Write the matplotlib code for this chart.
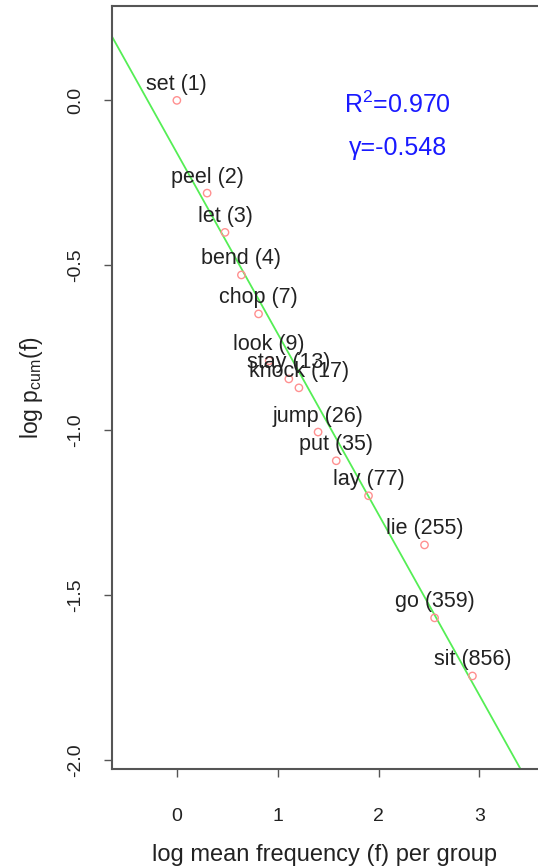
import numpy as np
import matplotlib.pyplot as plt

plt.rcParams["font.family"] = ["Liberation Sans", "DejaVu Sans"]
plt.rcParams["mathtext.fontset"] = "custom"
plt.rcParams["mathtext.rm"] = "Liberation Sans"
plt.rcParams["mathtext.it"] = "Liberation Sans:italic"

# ── data ────────────────────────────────────────────────────────────────────
words = ["set", "peel", "let", "bend", "chop", "look", "stay", "knock",
         "jump", "put", "lay", "lie", "go", "sit"]
freqs = [1, 2, 3, 4, 7, 9, 13, 17, 26, 35, 77, 255, 359, 856]
log_f = [0.00, 0.30, 0.477, 0.64, 0.81, 0.915, 1.11, 1.21,
         1.40, 1.58, 1.90, 2.455, 2.555, 2.93]
log_p = [0.00, -0.281, -0.40, -0.529, -0.647, -0.789, -0.844, -0.871,
         -1.005, -1.092, -1.198, -1.347, -1.568, -1.744]

fit_intercept = -0.159
fit_slope = -0.548
r2 = 0.970

# ── plot ────────────────────────────────────────────────────────────────────
fig = plt.figure(figsize=(5.38, 8.67), dpi=100)
ax = fig.add_axes([0.2076, 0.1130, 0.7924, 0.8801])

xlim = (-0.646, 3.58)
ylim = (-2.026, 0.286)

xs = np.array(xlim)
ax.plot(xs, fit_intercept + fit_slope * xs, color="#55ee55", lw=1.3, zorder=2)

ax.scatter(log_f, log_p, s=28, facecolors="none", edgecolors="#ff9090",
           linewidths=1.0, zorder=3)

for w, f, x, y in zip(words, freqs, log_f, log_p):
    ax.annotate(f"{w} ({f})", (x, y), xytext=(0, 4), textcoords="offset points",
                ha="center", va="bottom", fontsize=15.5, color="#222222", zorder=4)

ax.text(2.19, -0.014, r"R$^2$=" + f"{r2:.3f}", color="#1a1aff", fontsize=18,
        ha="center", va="center")
ax.text(2.19, -0.144, "γ=" + f"{fit_slope:.3f}", color="#1a1aff",
        fontsize=18, ha="center", va="center")

ax.set_xlim(*xlim)
ax.set_ylim(*ylim)
ax.set_xticks([0, 1, 2, 3])
ax.set_yticks([0.0, -0.5, -1.0, -1.5, -2.0])
ax.set_yticklabels(["0.0", "-0.5", "-1.0", "-1.5", "-2.0"], rotation=90,
                   va="center")

for side in ["left", "bottom", "top"]:
    ax.spines[side].set_color("#555555")
    ax.spines[side].set_linewidth(1.5)
ax.spines["right"].set_visible(False)

ax.tick_params(axis="both", length=6, width=1, color="#555555",
               labelsize=14, labelcolor="#222222")
ax.tick_params(axis="x", pad=22)
ax.tick_params(axis="y", pad=14)

ax.set_xlabel("log mean frequency (f) per group", fontsize=17,
              color="#222222", labelpad=14)
ax.set_ylabel(r"log p$_{\mathrm{cum}}$(f)", fontsize=16.5,
              color="#222222", labelpad=16)

plt.savefig("out.png", dpi=100)
